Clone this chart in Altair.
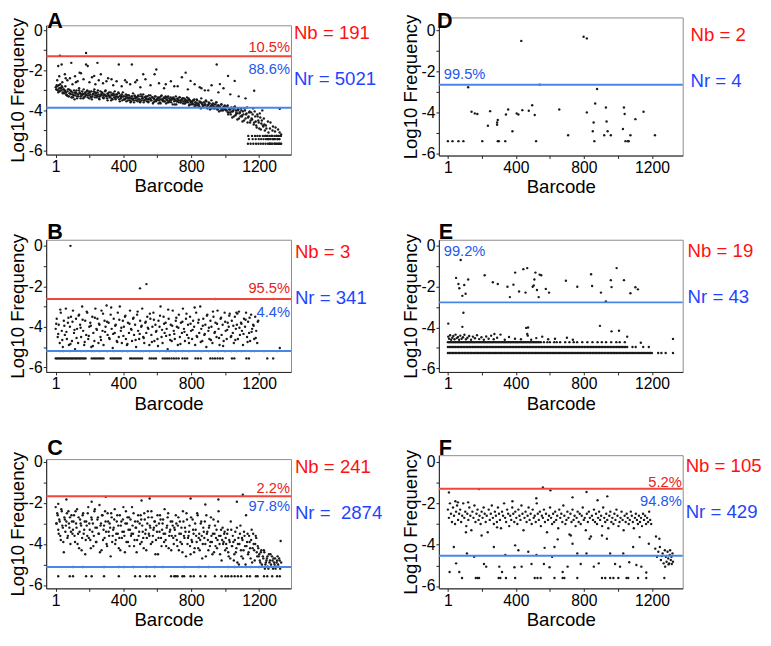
import altair as alt
import pandas as pd

FONT = "Liberation Sans"
RED_LINE = "#f0463c"
BLUE_LINE = "#4a86e8"
RED_TXT = "#ff1010"
BLUE_TXT = "#1f44ff"
RED_PCT = "#e8221c"
BLUE_PCT = "#2458ec"
DOT = "#1a1a1a"

XTICKS = [1, 200, 400, 600, 800, 1000, 1200]
YTICKS = [-6, -5, -4, -3, -2, -1, 0]

# ---------------- Panel A ----------------
A_band1 = [-2.85,-2.95,-3.0,-2.75,-3.05,-2.9,-2.8,-3.1,-2.95,-3.0,
-3.1,-3.25,-2.95,-3.3,-3.15,-3.05,-3.35,-3.2,-3.0,-3.25,
-3.1,-3.4,-3.2,-2.9,-3.15,-3.3,-3.05,-3.2,-3.35,-3.1,
-3.25,-3.0,-3.15,-3.4,-3.2,-3.05,-3.3,-3.15,-2.95,-3.25,
-3.35,-3.1,-3.2,-3.3,-3.05,-3.25,-3.15,-3.4,-3.2,-3.0,
-3.3,-3.15,-3.25,-3.35,-3.1,-3.2,-3.45,-3.25,-3.05,-3.3,
-3.2,-3.35,-3.15,-3.3,-3.4,-3.2,-3.1,
-3.3,-3.45,-3.2,-3.35,-3.5,-3.25,-3.4,-3.55,-3.3,-3.15,
-3.4,-3.3,-3.5,-3.35,-3.25,-3.45,-3.6,-3.3,-3.4,-3.2,
-3.5,-3.35,-3.45,-3.3,-3.55,-3.4,-3.25,-3.5,-3.35,-3.6,
-3.45,-3.3,-3.5,-3.4,-3.65,-3.35,-3.45,-3.25,-3.5,-3.4,
-3.55,-3.3,-3.45,-3.6,-3.4,-3.5,-3.35,-3.45,-3.7,-3.4,
-3.5,-3.3,-3.55,-3.45,-3.6,-3.35,-3.5,-3.45,-3.65,-3.4,
-3.5,-3.55,-3.35,-3.6,-3.45,-3.5,-3.7,
-3.55,-3.7,-3.45,-3.6,-3.75,-3.5,-3.65,-3.8,-3.6,-3.4,
-3.7,-3.85,-3.6,-3.75,-3.55,-3.9,-3.7,-3.65,-3.8,-3.5,
-3.75,-3.9,-3.7,-3.85,-3.6,-3.95,-3.75,-3.8,-4.0,-3.7,
-3.85,-3.9,-3.75,
-3.85,-4.0,-3.75,-4.1,-3.95,-4.2,-3.9,-4.05,-4.3,-3.8,
-4.0,-4.15,-3.95,-4.4,-4.1,-3.9,-4.25,-4.05,-4.5,-4.0,
-4.2,-3.85,-4.35,-4.1,-4.6,
-4.1,-4.45,-3.9,-4.6,-4.3,-4.75,-4.2,-4.5,-4.9,-4.35,-4.65,-4.0,-4.8,
-4.7,-5.27,-4.9,-5.43,-5.1,-5.66,-4.6,-5.27,-5.0,-5.43,-5.66,-4.85,-5.27,-5.43,-5.66,-5.1,-5.27]
A_band2 = [-2.95,-2.8,-3.1,-2.9,-2.7,-3.0,-2.85,-2.95,-3.15,-2.8,
-3.2,-3.05,-3.3,-3.15,-3.0,-3.35,-3.1,-3.25,-3.45,-3.15,
-3.0,-3.2,-3.3,-3.1,-3.4,-3.25,-3.15,-2.95,-3.3,-3.2,
-3.05,-3.35,-3.25,-3.1,-3.3,-3.45,-3.2,-3.05,-3.35,-3.15,
-3.25,-3.0,-3.4,-3.3,-3.2,-3.1,-3.35,-3.25,-3.05,-3.3,
-3.4,-3.2,-3.1,-3.3,-3.5,-3.25,-3.15,-3.35,-3.4,-3.2,
-3.3,-3.1,-3.45,-3.25,-3.35,-3.5,-3.3,
-3.45,-3.3,-3.55,-3.25,-3.4,-3.35,-3.6,-3.3,-3.45,-3.5,
-3.25,-3.4,-3.35,-3.55,-3.3,-3.45,-3.2,-3.5,-3.4,-3.6,
-3.35,-3.3,-3.55,-3.45,-3.25,-3.4,-3.5,-3.35,-3.65,-3.4,
-3.3,-3.55,-3.45,-3.35,-3.5,-3.6,-3.3,-3.45,-3.55,-3.35,
-3.4,-3.65,-3.5,-3.3,-3.55,-3.45,-3.6,-3.4,-3.35,-3.55,
-3.45,-3.7,-3.4,-3.5,-3.35,-3.6,-3.5,-3.4,-3.55,-3.65,
-3.45,-3.6,-3.5,-3.4,-3.7,-3.55,-3.6,
-3.65,-3.5,-3.8,-3.6,-3.45,-3.75,-3.7,-3.55,-3.9,-3.65,
-3.8,-3.6,-3.7,-3.5,-3.85,-3.75,-3.6,-3.95,-3.8,-3.7,
-3.65,-3.85,-3.9,-3.6,-3.8,-3.75,-4.05,-3.85,-3.7,-3.9,
-4.0,-3.8,-3.95,
-4.0,-3.8,-4.2,-3.95,-4.1,-3.85,-4.35,-4.0,-3.9,-4.25,
-4.1,-4.45,-3.95,-4.15,-4.3,-4.0,-4.55,-4.2,-3.9,-4.4,
-4.15,-4.6,-4.3,-4.05,-4.5,
-4.4,-4.2,-4.7,-4.05,-4.55,-4.85,-4.3,-4.6,-4.15,-4.95,-4.5,-4.75,-4.4,
-5.0,-4.75,-5.27,-4.55,-5.43,-4.9,-5.66,-5.27,-4.8,-5.43,-5.05,-5.66,-5.27,-4.95,-5.43,-5.66,-5.2]
A_band3 = [-2.75,-3.0,-2.9,-3.15,-3.05,-3.25,-2.95,-3.2,-3.35,-3.1,
-3.3,-3.0,-3.2,-3.4,-3.15,-3.25,-3.05,-3.35,-3.2,-3.1,
-3.3,-3.45,-3.2,-3.35,-3.25,-3.5,-3.3,-3.4,-3.2,-3.45,
-3.35,-3.55,-3.3,-3.45,-3.4,-3.25,-3.5,-3.4,-3.6,-3.35,
-3.45,-3.55,-3.3,-3.5,-3.4,-3.6,-3.45,-3.35,-3.55,-3.5,
-3.4,-3.65,-3.45,-3.55,-3.35,-3.6,-3.5,-3.45,-3.7,-3.55,
-3.5,-3.6,-3.4,-3.65,-3.55,-3.75,-3.6,-3.5,-3.7,-3.65,
-3.8,-3.6,-3.75,-3.7,-3.85,-3.65,-3.9,-3.8,-3.7,-3.95,
-3.85,-4.0,-3.9,-3.8,-4.1,-3.95,-4.05,-3.85,-4.2,-4.0,
-4.1,-4.3]
A_r1_x = [1136,1158,1176,1190,1204,1222,1236,1250,1262,1276,1290,1302,1316,1328]
A_r2_x = [1140,1162,1180,1198,1212,1226,1240,1254,1268,1280,1294,1308,1320]
A_r3_x = [1134,1150,1166,1182,1196,1210,1224,1238,1252,1264,1278,1292,1306,1318,1330]
A_out_x = [26,180,16,36,93,180,142,190,228,247,267,373,450,517,584,594,767,796,950,969,
           1017,1056,1171,1322,60,120,300,330,420,480,650,700,860,900,1080,1120]
A_out_y = [-1.27,-1.14,-1.79,-1.71,-1.63,-1.71,-2.12,-1.79,-2.28,-1.63,-2.2,-1.71,-1.71,-2.2,-2.2,-1.96,-2.12,-2.53,-1.71,-2.69,
           -2.28,-2.53,-3.02,-3.92,-2.4,-2.6,-2.55,-2.45,-2.6,-2.5,-2.7,-2.8,-2.9,-3.0,-3.3,-3.4]
A_out2_x = [10,22,40,55,70,85,100,115,130,150,165,200,215,235,255,280,310,340,360,390,
            410,440,470,500,530,560,610,640,680,720,745,780,820,850,880,920,960,990,1030]
A_out2_y = [-2.5,-2.3,-2.6,-2.2,-2.5,-2.4,-2.7,-2.3,-2.55,-2.15,-2.45,-2.6,-2.35,-2.7,-2.5,-2.65,-2.4,-2.75,-2.55,-2.8,
            -2.5,-2.7,-2.6,-2.85,-2.45,-2.75,-2.65,-2.9,-2.55,-2.8,-2.35,-2.95,-2.7,-2.85,-3.0,-2.75,-3.1,-2.9,-3.2]

# ---------------- Panel B ----------------
B_cloud1 = [-4.1,-3.6,-4.5,-3.9,-4.8,-3.3,-4.2,-5.0,-3.7,-4.4,
-3.1,-4.6,-3.8,-4.9,-4.0,-3.5,-4.7,-3.2,-4.3,-5.1,
-3.6,-4.1,-4.8,-3.4,-3.9,-4.5,-3.0,-4.2,-4.9,-3.7,
-4.4,-3.3,-4.6,-4.0,-3.8,-5.0,-3.5,-4.3,-4.7,-3.1,
-4.1,-3.6,-4.8,-3.9,-4.5,-3.2,-4.2,-4.9,-3.7,-4.0,
-2.95,-4.4,-3.8,-4.6,-3.4,-4.1,-5.05,-3.6,-4.3,-3.9,
-4.7,-3.3,-4.5,-3.0,-4.2,-4.8,-3.7,-4.0,-3.5,-4.6,
-4.9,-3.8,-4.3,-3.2,-4.1,-4.7,-3.6,-4.4,-3.9,-5.0,
-3.4,-4.2,-4.6,-3.7,-4.0,-3.1,-4.5,-4.8,-3.8,-4.3,
-3.5,-4.1,-4.9,-3.6,-4.4,-4.0,-3.3,-4.7,-3.9,-4.2,
-4.6,-3.7,-4.0,-3.0,-4.5,-4.8,-3.5,-4.3,-3.8,-4.1,
-5.1,-3.6,-4.4,-3.9,-4.7,-3.2,-4.2,-4.6,-3.7,-4.0,
-4.9,-3.4,-4.5,-3.8,-4.3,-3.1,-4.1,-4.7,-3.6,-4.4,
-3.9,-4.8,-3.5,-4.2,-4.6,-3.7,-4.0,-4.9,-3.3,-4.5,
-3.8,-4.3,-3.0,-4.1,-4.7,-3.6,-4.4,-3.9,-5.0,-3.4,
-4.2,-4.6,-3.7,-4.0,-4.8,-3.5,-4.3,-3.8,-4.5,-3.2,
-4.1,-4.9,-3.6,-4.4,-3.9,-4.7,-3.3,-4.2,-4.6,-3.8,
-4.0,-3.35,-4.5,-3.7,-4.3,-4.8,-3.5,-4.1,-3.9,-4.6,
-3.25,-4.4,-3.8,-4.2,-4.9,-3.6,-4.0,-3.3,-4.5,-3.75,
-4.3,-4.7,-3.4,-4.1,-3.9,-4.6,-3.5,-4.2,-4.8,-3.7]
B_cloud2 = [-3.85,-4.35,-3.15,-4.65,-3.95,-4.25,-3.55,-4.85,-3.75,-4.15,
-4.55,-3.45,-4.05,-3.65,-4.75,-3.25,-4.45,-3.95,-4.95,-3.55,
-4.15,-3.85,-4.65,-3.35,-4.25,-3.75,-4.55,-3.05,-4.35,-3.95,
-4.75,-3.65,-4.05,-4.45,-3.45,-4.85,-3.85,-4.15,-3.55,-4.65,
-3.25,-4.35,-3.95,-4.55,-3.75,-4.05,-3.35,-4.75,-3.65,-4.25,
-4.95,-3.45,-4.15,-3.85,-4.45,-3.15,-4.65,-3.95,-4.35,-3.55,
-4.05,-4.85,-3.75,-4.25,-3.35,-4.55,-3.85,-4.15,-3.05,-4.45,
-3.65,-4.75,-3.95,-4.35,-3.45,-4.05,-4.65,-3.25,-4.25,-3.85,
-4.55,-3.55,-4.95,-3.75,-4.15,-3.45,-4.45,-3.95,-4.65,-3.35,
-4.05,-3.85,-4.35,-3.65,-4.75,-3.55,-4.25,-3.95,-4.55,-3.75]
B_floor_x = [1,9,17,25,33,41,49,57,65,73,81,89,97,105,113,121,129,137,145,153,161,169,177,
             213,223,233,243,253,263,273,283,325,335,345,355,365,375,385,440,450,462,474,486,498,510,
             555,567,580,592,632,645,658,670,684,698,712,726,748,762,776,825,840,856,
             912,926,940,955,970,985,1040,1054,1125,1140,1248,1283]
B_row2_x = [26,45,84,151,180,213,228,257,305,344,392,425,498,517,555,613,652,671,709,748,
            786,863,902,960,998,1037,1066,1094,1152,1171,1229,1306]
B_out_x = [88,498,536,940,1283,1066,1322]
B_out_y = [0.0,-2.1,-1.89,-2.63,-2.63,-3.3,-5.05]

# ---------------- Panel C ----------------
C_band1 = [-2.2,-3.0,-2.6,-3.5,-2.9,-3.8,-2.4,-3.2,-4.4,-2.8,-3.1,-2.5,-3.6,-3.0,-2.7,-3.4,-2.9,
-3.3,-2.6,-3.9,-3.0,-2.3,-3.5,-4.2,-2.8,-3.1,-3.7,
-2.5,-3.3,-4.5,-2.9,-3.6,-2.2,-3.0,-3.8,-2.7,-3.4,
-4.1,-2.4,-3.2,-3.9,-2.8,-3.5,-2.1,-3.1,-4.3,-2.6,
-3.3,-3.7,-2.9,-4.0,-2.5,-3.4,-3.0,-4.6,-2.7,-3.6,
-3.2,-2.3,-3.8,-2.9,-3.5,-4.2,-2.6,-3.1,-3.7,-2.8,
-3.4,-4.4,-2.4,-3.0,-3.9,-2.7,-3.3,-3.6,-2.2,-3.5,
-4.1,-2.9,-3.2,-3.8,-2.6,-3.4,-4.0,-2.8,-3.1,-3.7,
-2.5,-3.5,-4.3,-3.0,-2.7,-3.6,-3.2,-2.4,-3.9,-3.3,
-2.9,-4.5,-3.1,-2.6,-3.7,-3.4,-2.8,-4.1,-3.0,-3.5,
-2.3,-3.8,-3.2,-2.7,-4.2,-3.4,-2.9,-3.6,-3.1,-4.0,
-3.3,-2.6,-3.8,-3.1,-4.3,-2.9,-3.5,-4.0,-2.4,-3.6,
-3.2,-4.6,-2.8,-3.7,-3.4,-4.1,-2.7,-3.9,-3.3,-4.4,
-3.0,-3.6,-2.5,-4.2,-3.5,-3.8,-2.9,-4.7,-3.2,-3.7,
-4.0,-2.6,-3.4,-4.3,-3.1,-3.9,-3.6,-4.5,-2.8,-3.5,
-4.1,-3.3,-3.8,-2.4,-4.0,-3.6,-4.8,-3.2,-3.9,-3.4,
-3.7,-4.2,-3.3,-4.6,-3.9,-2.9,-4.1,-3.6,-4.8,-3.8,
-4.4,-3.2,-4.0,-5.0,-3.5,-4.3,-3.7,-4.7,-3.4,-4.1,
-2.6,-3.9,-4.5,-3.6,-4.2,-3.8,-4.9,-3.5,-4.3,-4.0,
-3.7,-4.6,-4.2,
-4.5,-4.9,-4.3,-5.1,-4.7,-4.4,-5.0,-4.8,-4.6,-5.2,-4.9,-4.5,-5.1,-4.8,-4.7,-5.0,-5.2,-4.9,-4.6,-5.1,-4.8,-3.85]
C_band2 = [-3.0,-2.5,-3.3,-2.8,-3.6,-2.3,-3.1,-3.9,-2.7,-3.4,-2.9,-3.7,-2.4,-3.2,-4.0,-2.6,-3.5,
-2.9,-3.6,-2.4,-3.2,-4.0,-2.7,-3.4,-3.0,-4.3,-2.6,
-3.5,-2.9,-3.8,-3.1,-2.5,-3.7,-3.3,-4.2,-2.8,-3.0,
-3.6,-2.3,-3.9,-3.2,-2.7,-3.5,-4.4,-3.0,-2.6,-3.8,
-3.1,-2.4,-3.4,-4.1,-2.9,-3.6,-3.2,-2.5,-3.9,-3.3,
-2.8,-4.0,-3.5,-2.6,-3.1,-3.7,-4.3,-2.9,-3.4,-2.2,
-3.6,-3.0,-3.9,-2.7,-3.3,-4.1,-2.8,-3.5,-3.1,-2.5,
-3.8,-3.2,-4.4,-2.9,-3.6,-3.0,-2.6,-3.9,-3.4,-4.2,
-2.8,-3.3,-3.7,-2.4,-3.5,-3.1,-4.0,-2.7,-3.6,-3.2,
-2.9,-3.8,-3.4,-4.5,-3.0,-2.6,-3.7,-3.3,-2.8,-3.9,
-3.5,-4.1,-3.1,-2.5,-3.6,-3.3,-4.3,-2.9,-3.7,-3.2,
-3.6,-3.0,-4.1,-2.7,-3.5,-3.9,-3.2,-4.4,-2.9,-3.7,
-3.4,-2.5,-4.0,-3.6,-3.1,-4.5,-3.8,-2.8,-3.5,-4.2,
-3.3,-3.9,-2.6,-3.7,-4.3,-3.0,-3.6,-4.0,-3.4,-2.9,
-4.6,-3.5,-3.8,-3.2,-4.1,-2.7,-3.9,-3.5,-4.4,-3.1,
-3.7,-4.2,-2.9,-3.6,-4.5,-3.3,-3.8,-4.0,-3.5,-4.3,
-4.0,-3.5,-4.4,-3.8,-4.7,-3.3,-4.1,-3.9,-4.5,-3.4,
-4.2,-4.9,-3.7,-4.0,-3.1,-4.6,-3.8,-4.3,-3.6,-5.0,
-4.1,-3.5,-4.4,-3.9,-4.7,-3.3,-4.2,-4.0,-4.8,-3.6,
-4.4,-4.1,-4.6,
-4.8,-4.4,-5.0,-4.6,-4.3,-5.2,-4.9,-4.7,-5.1,-4.5,-4.8,-5.0,-4.6,-5.2,-4.9,-4.7,-5.1,-4.8,-5.0,-4.7,-5.2,-4.9]
C_floor_x = [16,84,103,180,213,286,373,469,498,536,555,584,681,700,709,719,748,758,796,815,
             854,883,940,979,1002,1017,1037,1056,1075,1094,1129,1146,1181,1191,1229,1248,1277,1306,1322]
C_row2_x = [103,161,286,373,402,459,536,584,632,758,844,902,1017,1056,1123,1152,1200,1248,1296]
C_out_x = [16,64,296,213,507,555,796,1104,1069,883,960]
C_out_y = [-2.04,-1.83,-1.7,-1.94,-1.88,-1.78,-1.78,-1.6,-1.94,-2.07,-1.83]

# ---------------- Panel D ----------------
D_x = [432,798,817,120,540,877,140,159,174,249,236,294,290,290,342,355,380,405,415,438,
       476,496,511,655,707,817,866,857,852,929,933,939,919,958,1035,1039,1029,1102,1150,1073,1217]
D_y = [-0.52,-0.32,-0.40,-2.78,-2.65,-2.86,-3.97,-4.05,-4.08,-3.94,-4.65,-4.37,-4.49,-4.6,-4.1,-3.86,-4.92,-4.05,-4.1,-3.89,
       -3.92,-3.65,-4.13,-3.86,-5.11,-4.0,-3.57,-4.49,-4.92,-3.76,-4.44,-4.92,-5.11,-5.11,-3.76,-4.08,-4.81,-4.33,-3.97,-5.11,-5.11]
D_floor_x = [1,28,63,92,203,294,300,338,519,861,1044,1058,1063]

# ---------------- Panel E ----------------
E_x = [76,49,63,68,86,97,105,120,92,86,3,217,265,294,351,365,386,396,419,444,
       467,457,499,505,509,515,524,534,540,549,576,595,694,761,842,848,900,929,894,958,
       962,962,992,1006,1035,1054,1073,1102,1117,1134,1323,274,461,472,467]
E_y = [-0.69,-1.57,-1.87,-2.08,-2.45,-1.92,-2.35,-1.65,-3.28,-3.97,-3.81,-1.44,-1.78,-1.87,-2.0,-2.51,-1.9,-1.31,-2.24,-1.14,
       -1.09,-2.29,-2.0,-1.94,-1.65,-1.31,-2.16,-2.51,-1.41,-1.44,-2.11,-2.29,-1.71,-2.0,-1.39,-1.97,-2.29,-2.72,-3.92,-1.68,
       -2.02,-4.19,-1.09,-4.16,-1.68,-4.45,-2.32,-2.03,-2.13,-4.75,-4.56,-4.32,-4.02,-4.0,-4.32]
E_s_x = [3,8,14,20,27,33,40,46,53,60,67,74,82,90,98,107,116,126,137,148,160,172,185,198,212,226,240,255,270,290,
         310,335,360,395,430,470,490,520,555,590,630,700,735]
E_s_y = [-4.45,-4.55,-4.38,-4.6,-4.5,-4.42,-4.58,-4.35,-4.52,-4.47,-4.6,-4.4,-4.55,-4.48,-4.36,-4.58,-4.5,-4.42,-4.6,-4.45,
         -4.53,-4.38,-4.57,-4.48,-4.6,-4.44,-4.55,-4.4,-4.58,-4.5,-4.35,-4.6,-4.47,-4.55,-4.58,-4.4,-4.6,-4.52,-4.45,-4.58,
         -4.55,-4.5,-4.6]
E_r1_x = [1,9,18,27,35,44,53,62,70,79,88,97,105,114,123,132,140,149,158,167,175,184,193,202,210,219,228,237,245,254,
          263,272,280,289,298,307,315,324,333,342,350,359,368,377,385,394,403,412,420,429,438,447,455,464,473,482,490,499,
          508,517,525,534,543,552,560,569,578,587,595,604,613,622,630,639,648,657,665,674,683,692,700,709,718,727,735,744,
          753,762,770,779,788,797,805,814,823,832,840,849,858,867,875,884,893,902,910,919,928,937,945,954,963,972,980,989,
          998,1007,1015,1024,1033,1042,1050,1059,1068,1077,1085,1094,1103,1112,1120,1129,1138,1147,1155,1164,1173,1182,
          1190,1199,1236,1255,1280,1323]
E_r2_x = [1,10,19,28,37,46,55,64,73,82,91,100,109,118,127,136,145,154,163,172,181,190,199,208,217,226,235,244,253,262,
          271,280,289,298,307,316,325,334,343,352,361,370,379,388,397,406,415,424,433,442,451,460,469,478,487,496,505,514,
          523,532,541,550,559,568,577,586,595,604,613,622,631,640,649,658,667,676,685,694,703,712,721,730,739,748,757,766,
          775,784,793,802,811,820,829,838,847,856,865,874,883,892,901,910,919,928,937,946,955,964,973,982,991,1000,1009,
          1018,1027,1036,1045,1054,1085,1104,1148,1181]
E_r3_x = [1,8,15,22,29,36,43,50,57,64,71,78,85,92,99,106,113,120,127,134,141,148,155,162,169,176,183,190,197,204,
          211,218,225,232,239,246,253,260,267,274,281,288,295,302,309,316,323,330,337,344,351,358,365,372,379,386,393,
          400,407,414,421,428,435,442,449,456,463,470,477,484,491,498,505,512,519,526,533,540,547,
          565,585,600,625,640,660,690,715,740,760,790,820,850,880,905,930,960,990,1010,1040]

# ---------------- Panel F ----------------
F_band = [-2.3,-2.7,-2.0,-2.5,-2.9,-2.2,-2.6,-3.0,-2.4,-2.1,
-2.8,-2.5,-2.3,-2.9,-2.6,-2.0,-2.7,-2.4,-3.1,-2.5,
-2.8,-2.2,-2.6,-3.3,-2.4,-2.7,-2.1,-2.9,-2.5,-2.3,
-2.8,-2.6,-3.0,-2.4,-2.7,-2.2,-2.5,-2.9,-2.6,-3.4,
-2.3,-2.8,-2.5,-2.1,-2.7,-3.0,-2.4,-2.6,-2.9,-2.2,
-2.5,-2.8,-3.2,-2.4,-2.6,-2.0,-2.7,-2.9,-2.3,-2.5,
-3.1,-2.6,-2.8,-2.2,-2.5,-2.9,-2.4,-2.7,-3.0,-2.3,
-2.6,-2.8,-2.1,-2.5,-3.3,-2.7,-2.4,-2.9,-2.6,-2.2,
-2.8,-2.5,-3.0,-2.3,-2.7,-2.6,-2.9,-2.0,-2.5,-2.8,
-2.4,-3.1,-2.6,-2.7,-2.3,-2.9,-2.5,-3.4,-2.8,-2.6,
-2.2,-2.7,-3.0,-2.5,-2.9,-2.4,-2.8,-2.6,-3.2,-2.3,
-2.7,-2.5,-2.9,-2.1,-2.6,-3.0,-2.8,-2.4,-2.7,-3.5,
-2.5,-2.9,-2.3,-2.8,-2.6,-3.1,-2.7,-2.4,-2.9,-2.5,
-3.0,-2.6,-2.2,-2.8,-2.7,-3.3,-2.5,-2.9,-2.4,-2.7,
-3.6,-2.6,-2.8,-2.3,-2.9,-2.5,-3.0,-2.7,-2.4,-2.8,
-2.6,-3.1,-2.2,-2.7,-2.9,-2.5,-2.8,-3.2,-2.6,-2.4,
-2.9,-2.7,-3.0,-2.5,-2.8,-2.3,-2.6,-3.1,-2.9,-2.7,
-2.4,-2.8,-3.3,-2.6,-2.9,-2.5,-2.7,-3.0,-2.8,-2.4,
-2.6,-2.9,-3.2,-2.7,-2.5,-2.8,-3.0,-2.6,-2.9,-2.7,
-3.1,-2.5,-2.8,-2.6,-3.0,-2.7,-2.9,-2.4,-2.8,-3.0]
F_hi_x = [7,184,559,603,815,937,733,45,60,120,380,520,880]
F_hi_y = [-1.47,-1.31,-1.23,-1.37,-1.45,-1.66,-1.71,-1.9,-1.95,-1.95,-1.9,-1.75,-1.85]
F_lo_x = [11,36,49,68,107,113,155,199,213,226,271,290,303,319,338,392,396,415,434,473,
          492,521,565,569,598,613,627,646,675,704,723,733,761,781,815,833,858,887,906,935,
          954,983,1012,1031,1066,1089,1108,1127,1137,1166,1181]
F_lo_y = [-5.32,-4.11,-4.9,-5.32,-3.4,-4.42,-4.58,-3.55,-4.93,-5.06,-4.11,-3.16,-5.06,-5.32,-4.5,-5.09,-4.03,-4.27,-5.06,-4.34,
          -4.93,-4.5,-4.93,-4.15,-5.09,-4.58,-4.11,-3.74,-5.32,-5.06,-3.55,-3.95,-4.42,-4.93,-4.42,-3.71,-5.06,-4.9,-3.55,-3.71,
          -4.42,-4.93,-5.06,-4.42,-4.85,-4.11,-4.98,-3.63,-5.06,-5.34,-3.95]
F_cl_x = [1223,1243,1219,1229,1237,1246,1252,1262,1268,1275,1281,1285,1291,1295,1300,1304,1310,1314,1320,1323,1277,1297,1316,1306,1258]
F_cl_y = [-3.6,-3.71,-4.19,-4.58,-4.34,-4.11,-4.74,-4.42,-4.9,-4.27,-4.58,-4.82,-4.34,-4.66,-4.9,-4.5,-4.74,-4.58,-4.42,-4.82,
          -5.06,-4.95,-4.93,-4.27,-4.55]
F_floor_x = [84,165,175,184,299,309,342,396,511,527,546,627,675,685,761,906,925,954,973,1002,1050,1060,1118,1166,1272]


def seq(vals, start, step):
    return [(start + step * i, v) for i, v in enumerate(vals)]


def level(xs, y):
    return [(x, y) for x in xs]


def pairs(xs, ys):
    return list(zip(xs, ys))


def spacer(w, h):
    return alt.Chart(pd.DataFrame({"v": [0]})).mark_point(opacity=0).encode(
        x=alt.X("v:Q", axis=None), y=alt.Y("v:Q", axis=None)
    ).properties(width=w, height=h, view=alt.ViewBackground(strokeOpacity=0))


def panel(letter, points, xdom, ydom, w, h, red, blue, nb, nr, pcts, nb_y, nr_y, nb_dx, let_x, let_y):
    df = pd.DataFrame(points, columns=["x", "y"])
    xenc = alt.X("x:Q", scale=alt.Scale(domain=xdom, nice=False, zero=False),
                 axis=alt.Axis(values=XTICKS, format="d", title="Barcode", titlePadding=3,
                               labelExpr="datum.value == 1 || datum.value % 400 == 0 ? datum.label : ''"))
    yenc = alt.Y("y:Q", scale=alt.Scale(domain=ydom, nice=False, zero=False),
                 axis=alt.Axis(values=YTICKS, title="Log10 Frequency", titlePadding=1,
                               labelExpr="datum.value % 2 == 0 ? '' + datum.value : ''"))
    layers = [alt.Chart(df).mark_circle(size=6, color=DOT, opacity=1).encode(x=xenc, y=yenc)]
    if red is not None:
        layers.append(alt.Chart(pd.DataFrame({"y": [red]})).mark_rule(color=RED_LINE, strokeWidth=2).encode(y=yenc))
    if blue is not None:
        layers.append(alt.Chart(pd.DataFrame({"y": [blue]})).mark_rule(color=BLUE_LINE, strokeWidth=2).encode(y=yenc))
    for p in pcts:
        if p.get("yd") is not None:
            layers.append(alt.Chart(pd.DataFrame({"y": [p["yd"]], "t": [p["t"]]})).mark_text(
                align=p["align"], baseline="middle", dy=p["dy"], fontSize=15, font=FONT, color=p["color"]
            ).encode(x=alt.value(p["x"]), y=yenc, text="t:N"))
        else:
            layers.append(alt.Chart(pd.DataFrame({"t": [p["t"]]})).mark_text(
                align=p["align"], baseline="middle", fontSize=15, font=FONT, color=p["color"]
            ).encode(x=alt.value(p["x"]), y=alt.value(p["ypx"]), text="t:N"))
    layers.append(alt.Chart(pd.DataFrame({"t": [nb]})).mark_text(
        align="left", baseline="middle", fontSize=19, font=FONT, color=RED_TXT
    ).encode(x=alt.value(w + nb_dx), y=alt.value(nb_y), text="t:N"))
    layers.append(alt.Chart(pd.DataFrame({"t": [nr]})).mark_text(
        align="left", baseline="middle", fontSize=19, font=FONT, color=BLUE_TXT
    ).encode(x=alt.value(w + nb_dx), y=alt.value(nr_y), text="t:N"))
    layers.append(alt.Chart(pd.DataFrame({"t": [letter]})).mark_text(
        align="left", baseline="alphabetic", fontSize=22, fontWeight="bold", font=FONT, color="black"
    ).encode(x=alt.value(let_x), y=alt.value(let_y), text="t:N"))
    return alt.layer(*layers).properties(width=w, height=h)


XL = [-55, 1388]
XR = [-52, 1380]
WL = 250
WR = 249

ptsA = (seq(A_band1, 1, 6) + seq(A_band2, 4, 6) + seq(A_band3, 7, 12) + level(A_r1_x, -5.27)
        + level(A_r2_x, -5.43) + level(A_r3_x, -5.66) + pairs(A_out_x, A_out_y) + pairs(A_out2_x, A_out2_y))
ptsB = (seq(B_cloud1, 1, 6) + seq(B_cloud2, 4, 12) + level(B_floor_x, -5.56) + level(B_row2_x, -5.2)
        + pairs(B_out_x, B_out_y))
ptsC = (seq(C_band1, 1, 6) + seq(C_band2, 4, 6) + level(C_floor_x, -5.57) + level(C_row2_x, -5.12)
        + pairs(C_out_x, C_out_y))
ptsD = pairs(D_x, D_y) + level(D_floor_x, -5.4)
ptsE = (pairs(E_x, E_y) + pairs(E_s_x, E_s_y) + level(E_r1_x, -5.25) + level(E_r2_x, -4.96)
        + level(E_r3_x, -4.72))
ptsF = (seq(F_band, 1, 6) + pairs(F_hi_x, F_hi_y) + pairs(F_lo_x, F_lo_y) + pairs(F_cl_x, F_cl_y)
        + level(F_floor_x, -5.61))

A = panel("A", ptsA, XL, [-6.2, 0.24], WL, 132, -1.3, -3.87, "Nb = 191", "Nr = 5021",
          [dict(t="10.5%", yd=-1.3, dy=-9, align="right", x=WL - 1, color=RED_PCT),
           dict(t="88.6%", yd=-1.3, dy=13, align="right", x=WL - 1, color=BLUE_PCT)],
          7.7, 55, 3, 1, 2.3)
B = panel("B", ptsB, XL, [-6.23, 0.3], WL, 135, -2.63, -5.19, "Nb = 3", "Nr = 341",
          [dict(t="95.5%", yd=-2.63, dy=-11, align="right", x=WL - 1, color=RED_PCT),
           dict(t="4.4%", yd=-2.63, dy=13, align="right", x=WL - 1, color=BLUE_PCT)],
          13, 59.7, 4, 1, -0.3)
C = panel("C", ptsC, XL, [-6.16, 0.14], WL, 132, -1.67, -5.12, "Nb = 241", "Nr =\u00a0 2874",
          [dict(t="2.2%", yd=-1.67, dy=-8, align="right", x=WL - 1, color=RED_PCT),
           dict(t="97.8%", yd=-1.67, dy=10, align="right", x=WL - 1, color=BLUE_PCT)],
          7.7, 54.7, 4, 1, -3.7)
D = panel("D", ptsD, XR, [-6.1, 0.62], WR, 141, None, -2.65, "Nb = 2", "Nr = 4",
          [dict(t="99.5%", yd=-2.65, dy=-10.7, align="left", x=5, color=BLUE_PCT)],
          17.7, 64.7, 8, -2, 10.3)
E = panel("E", ptsE, XR, [-6.18, 0.3], WR, 135, None, -2.77, "Nb = 19", "Nr = 43",
          [dict(t="99.2%", yd=None, ypx=11.8, align="left", x=5, color=BLUE_PCT)],
          11.3, 58.7, 5, 0, -0.3)
F = panel("F", ptsF, XR, [-6.11, 0.33], WR, 136, -1.29, -4.53, "Nb = 105", "Nr = 429",
          [dict(t="5.2%", yd=-1.29, dy=-7, align="right", x=WR - 1, color=RED_PCT),
           dict(t="94.8%", yd=-1.29, dy=13, align="right", x=WR - 1, color=BLUE_PCT)],
          11.5, 58, 3, 0, 0.3)

left = alt.vconcat(spacer(WL, 8), A, spacer(WL, 87), B, spacer(WL, 89), C, spacing=0, bounds="flush")
right = alt.vconcat(D, spacer(WR, 86), E, spacer(WR, 85), F, spacing=0, bounds="flush")

chart = alt.hconcat(left, right, spacing=401, bounds="flush",
                    padding={"left": 0, "top": -6, "right": 0, "bottom": 0}).configure_axis(
    labelFont=FONT, titleFont=FONT, labelFontSize=16, titleFontSize=19, titleFontWeight="normal",
    labelColor="black", titleColor="black", domainColor="#222222", tickColor="#222222",
    tickSize=3, grid=False, labelPadding=1
).configure_view(stroke="#8a8a8a", strokeWidth=1)

chart.save("out.html", embed_options={"renderer": "svg", "actions": False})
